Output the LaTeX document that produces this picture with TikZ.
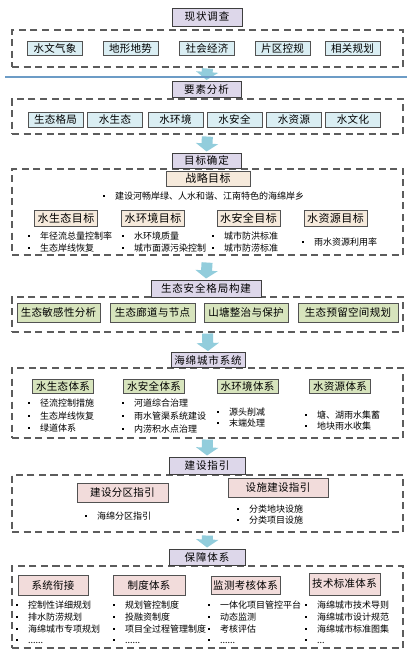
\documentclass[tikz,border=0pt]{standalone}
\usepackage{fontspec}
\setmainfont{Noto Sans CJK SC}
\usetikzlibrary{arrows.meta,positioning,calc}
\definecolor{bLav}{HTML}{DDD7EA}
\definecolor{bBlue}{HTML}{DAEEF3}
\definecolor{bGreen}{HTML}{D7E4BD}
\definecolor{bPeach}{HTML}{F6EADC}
\definecolor{bPink}{HTML}{F2DCDB}
\definecolor{bArrow}{HTML}{92CDDC}
\definecolor{bLine}{HTML}{6C9CC6}
\definecolor{bDark}{HTML}{3F3F3F}
\newcommand\bul{\makebox[12pt][l]{\raisebox{0.3em}{\rule{2pt}{2pt}}}}
\newcommand\dlong{......}
\newcommand\dshort{...}
\tikzset{
  stage/.style = {draw=bDark, fill=bLav, line width=1pt, inner sep=0pt,
                  font=\fontsize{10.5}{12}\selectfont\addfontfeature{LetterSpace=8},
                  minimum height=16pt},
  frame/.style = {draw=bDark!85, dash pattern=on 7pt off 4.5pt, line width=1.1pt,
                  inner sep=0pt, minimum width=391pt},
  itm/.style   = {draw=bDark!90, line width=0.8pt, inner sep=0pt,
                  font=\fontsize{10.5}{12}\selectfont\addfontfeature{LetterSpace=3}},
  itb/.style   = {itm, fill=bBlue, minimum width=55pt, minimum height=14pt},
  itg/.style   = {itm, fill=bGreen},
  goal/.style  = {itm, fill=bPeach, line width=1pt,
                  font=\fontsize{11}{13}\selectfont\addfontfeature{LetterSpace=4},
                  minimum height=16pt},
  itp/.style   = {itm, fill=bPink, line width=1pt},
  li/.style    = {anchor=west, inner sep=0pt, font=\fontsize{9}{10}\selectfont},
  flow/.style  = {draw=bArrow, line width=11pt, -{Triangle[width=22pt,length=8pt]},
                  shorten >=1pt},
}

\begin{document}
\begin{tikzpicture}[x=1pt, y=-1pt]
  \fill[white] (0,0) rectangle (419,670);
  \useasboundingbox (0,0) rectangle (419,670);
  % survey
  \node[frame, minimum height=37pt] (f1) at (207.5,48.5) {};
  \node[stage, minimum width=70pt, minimum height=18pt] (s1) at (207,17) {现状调查};
  \foreach \n/\x/\t in {1/55/水文气象, 2/130.5/地形地势, 3/207/社会经济, 4/282.5/片区控规, 5/352.5/相关规划}
    \node[itb] (a\n) at (\x,48.5) {\t};
  % elements
  \node[frame, minimum height=35pt] (f2) at (207.5,116.5) {};
  \node[stage, minimum width=69pt] (s2) at (206.5,89.5) {要素分析};
  \foreach \n/\x/\t in {1/55.5/生态格局, 2/115/水生态, 3/175.5/水环境, 4/234.5/水安全, 5/294/水资源, 6/353/水文化}
    \node[itb, minimum height=15pt] (c\n) at (\x,119.5) {\t};
  % goals
  \node[frame, minimum height=86pt] (f3) at (207.5,212) {};
  \node[stage, minimum width=69pt, minimum height=15pt] (s3) at (206.5,160.5) {目标确定};
  \node[goal, minimum width=84pt, minimum height=15pt] (zl) at (208,178.5) {战略目标};
  \node[li] (zl1) at (103,196) {\bul 建设河畅岸绿、人水和谐、江南特色的海绵岸乡};
  \foreach \n/\x/\t in {1/66/水生态目标, 2/153/水环境目标, 3/248.5/水安全目标, 4/335.5/水资源目标}
    \node[goal, minimum width=63pt] (g\n) at (\x,218) {\t};
  \foreach \x/\y/\t [count=\k] in {28/236/年径流总量控制率, 28/248/生态岸线恢复,
      122/236/水环境质量, 122/248/城市面源污染控制, 212/236/城市防洪标准,
      212/248/城市防涝标准, 302/242/雨水资源利用率}
    \node[li] (gl\k) at (\x,\y) {\bul\t};
  % ecological pattern
  \node[frame, minimum height=35pt] (f4) at (207.5,314.5) {};
  \node[stage, minimum width=110pt, minimum height=17pt] (s4) at (206,288.5) {生态安全格局构建};
  \foreach \n/\x/\w/\t in {1/58.5/83/生态敏感性分析, 2/152.5/85/生态廊道与节点, 3/246/84/山塘整治与保护, 4/348/100/生态预留空间规划}
    \node[itg, minimum width=\w pt, minimum height=19pt] (e\n) at (\x,312.5) {\t};
  % sponge city system
  \node[frame, minimum height=70pt] (f5) at (207.5,403) {};
  \node[stage, minimum width=74pt, minimum height=15pt] (s5) at (208,360) {海绵城市系统};
  \foreach \n/\x/\t in {1/63/水生态体系, 2/154/水安全体系, 3/247.5/水环境体系, 4/340/水资源体系}
    \node[itg, minimum width=61pt, minimum height=14pt] (h\n) at (\x,386.5) {\t};
  \foreach \x/\y/\t [count=\k] in {28/403/径流控制措施, 28/416/生态岸线恢复, 28/428/绿道体系,
      122/403/河道综合治理, 122/416/雨水管渠系统建设, 122/429/内涝积水点治理,
      217/412/源头削减, 217/423/末端处理, 305/415/塘、湖雨水集蓄, 305/426/地块雨水收集}
    \node[li] (hl\k) at (\x,\y) {\bul\t};
  % construction guide
  \node[frame, minimum height=57pt] (f6) at (207.5,503.5) {};
  \node[stage, minimum width=76pt, minimum height=17pt] (s6) at (207,465.5) {建设指引};
  \node[itp, minimum width=91pt, minimum height=19pt] (j1) at (122.5,492.5) {建设分区指引};
  \node[itp, minimum width=100pt, minimum height=19pt] (j2) at (278,487.5) {设施建设指引};
  \foreach \x/\y/\t [count=\k] in {85/516/海绵分区指引, 237/509/分类地块设施, 237/520/分类项目设施}
    \node[li] (jl\k) at (\x,\y) {\bul\t};
  % support system
  \node[frame, minimum height=82pt] (f7) at (207.5,607) {};
  \node[stage, minimum width=76pt] (s7) at (207,557) {保障体系};
  \foreach \n/\x/\y/\w/\h/\t in {1/53/585/70/20/系统衔接, 2/149/585/72/20/制度体系,
      3/245.5/585/69/18/监测考核体系, 4/344.5/584/71/22/技术标准体系}
    \node[itp, minimum width=\w pt, minimum height=\h pt] (b\n) at (\x,\y) {\t};
  \foreach \x/\y/\t [count=\k] in {16/605/控制性详细规划, 16/617/排水防涝规划, 16/629/海绵城市专项规划, 16/641/\dlong,
      113/605/规划管控制度, 113/617/投融资制度, 113/629/项目全过程管理制度, 113/641/\dlong,
      208/605/一体化项目管控平台, 208/617/动态监测, 208/629/考核评估, 208/641/\dlong,
      305/605/海绵城市技术导则, 305/617/海绵城市设计规范, 305/629/海绵城市标准图集, 305/641/\dshort}
    \node[li] (bl\k) at (\x,\y) {\bul\t};
  % flow arrows
  \foreach \a/\b/\s in {f1/s2/1, f2/s3/2, f3/s4/7, f4/s5/1, f5/s6/1, f6/s7/3}
    \draw[flow, shorten <=\s pt] (\a.south) -- (\b.north);
  \draw[bLine, line width=2.5pt] (5,77) -- (407,77);
\end{tikzpicture}
\end{document}
